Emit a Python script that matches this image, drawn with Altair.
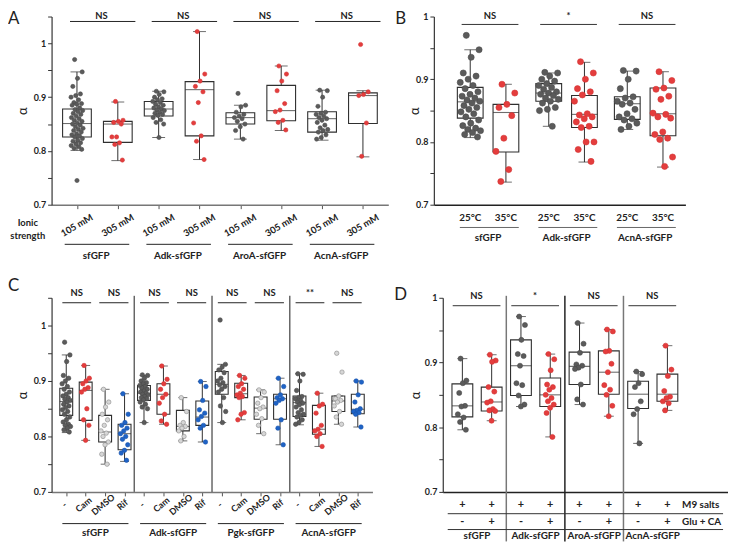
import altair as alt
import pandas as pd

FONT = "Lato"
INK = "#222222"

KIND_DOMAIN = ["ctrl", "treat", "dmso", "rif"]
FILL_RANGE = ["#5b5b5b", "#e43d3d", "#d6d6d6", "#1f63c6"]
STROKE_RANGE = ["#4a4a4a", "#d33232", "#8a8a8a", "#1a55ad"]

Y_TICKS_HI = [0.7, 0.75, 0.8, 0.85, 0.9, 0.95, 1.0, 1.05]
Y_TICKS_LO = [0.7, 0.75, 0.8, 0.85, 0.9, 0.95, 1.0]
Y_LABELS = ["0.7", "0.8", "0.9", "1"]

# ---------------- Panel A ----------------
A_groups = ["sfGFP", "Adk-sfGFP", "AroA-sfGFP", "AcnA-sfGFP"]
A_conds = ["105 mM", "305 mM"]
A_sig = ["NS", "NS", "NS", "NS"]
A_lo = [0.801, 0.782, 0.825, 0.784, 0.822, 0.838, 0.820, 0.789]
A_q1 = [0.826, 0.816, 0.865, 0.828, 0.850, 0.856, 0.835, 0.851]
A_med = [0.851, 0.850, 0.878, 0.914, 0.862, 0.875, 0.860, 0.903]
A_q3 = [0.878, 0.855, 0.892, 0.929, 0.871, 0.922, 0.873, 0.908]
A_hi = [0.947, 0.891, 0.911, 1.022, 0.885, 0.958, 0.913, 0.912]
A_pts = [
    [0.970, 0.947, 0.935, 0.920, 0.906, 0.903, 0.900, 0.895, 0.890, 0.888, 0.887, 0.885, 0.880, 0.877, 0.875,
     0.873, 0.870, 0.868, 0.865, 0.862, 0.860, 0.857, 0.855, 0.852, 0.850, 0.848, 0.845, 0.842, 0.840, 0.838,
     0.835, 0.832, 0.830, 0.828, 0.826, 0.823, 0.820, 0.818, 0.815, 0.813, 0.810, 0.808, 0.805, 0.803, 0.745],
    [0.892, 0.857, 0.855, 0.853, 0.850, 0.826, 0.826, 0.815, 0.812, 0.783],
    [0.911, 0.910, 0.905, 0.900, 0.897, 0.895, 0.892, 0.890, 0.887, 0.885, 0.882, 0.880, 0.878, 0.876, 0.875,
     0.872, 0.870, 0.868, 0.866, 0.862, 0.858, 0.853, 0.850, 0.825],
    [1.022, 0.943, 0.930, 0.920, 0.910, 0.890, 0.852, 0.828, 0.818, 0.784],
    [0.907, 0.885, 0.882, 0.872, 0.868, 0.865, 0.862, 0.860, 0.855, 0.850, 0.845, 0.838, 0.822],
    [0.958, 0.943, 0.930, 0.912, 0.888, 0.876, 0.873, 0.857, 0.853, 0.839],
    [0.913, 0.912, 0.900, 0.883, 0.872, 0.870, 0.868, 0.865, 0.862, 0.860, 0.857, 0.853, 0.848, 0.843, 0.840,
     0.838, 0.835, 0.830, 0.825, 0.822],
    [0.998, 0.910, 0.905, 0.903, 0.852, 0.790],
]

# ---------------- Panel B ----------------
B_groups = ["sfGFP", "Adk-sfGFP", "AcnA-sfGFP"]
B_conds = ["25°C", "35°C"]
B_sig = ["NS", "*", "NS"]
B_lo = [0.807, 0.736, 0.825, 0.768, 0.820, 0.760]
B_q1 = [0.838, 0.784, 0.865, 0.823, 0.836, 0.810]
B_med = [0.864, 0.847, 0.878, 0.844, 0.861, 0.845]
B_q3 = [0.887, 0.860, 0.893, 0.874, 0.872, 0.886]
B_hi = [0.947, 0.892, 0.910, 0.927, 0.913, 0.912]
B_pts = [
    [0.970, 0.947, 0.935, 0.910, 0.905, 0.900, 0.895, 0.890, 0.885, 0.880, 0.876, 0.873, 0.870, 0.867, 0.865,
     0.862, 0.858, 0.855, 0.852, 0.848, 0.845, 0.840, 0.835, 0.830, 0.826, 0.822, 0.820, 0.818, 0.815, 0.812, 0.808],
    [0.892, 0.878, 0.860, 0.855, 0.842, 0.806, 0.785, 0.756, 0.737],
    [0.911, 0.910, 0.905, 0.900, 0.897, 0.893, 0.890, 0.887, 0.884, 0.880, 0.878, 0.876, 0.874, 0.870, 0.868,
     0.865, 0.862, 0.855, 0.852, 0.850, 0.825],
    [0.928, 0.910, 0.900, 0.885, 0.880, 0.875, 0.865, 0.845, 0.843, 0.840, 0.837, 0.832, 0.825, 0.823, 0.800,
     0.800, 0.788, 0.769],
    [0.914, 0.913, 0.900, 0.885, 0.872, 0.870, 0.865, 0.862, 0.860, 0.852, 0.845, 0.840, 0.837, 0.835, 0.830,
     0.825, 0.820],
    [0.912, 0.898, 0.886, 0.884, 0.873, 0.868, 0.846, 0.844, 0.840, 0.838, 0.816, 0.812, 0.806, 0.804, 0.776, 0.761],
]

# ---------------- Panel C ----------------
C_groups = ["sfGFP", "Adk-sfGFP", "Pgk-sfGFP", "AcnA-sfGFP"]
C_conds = ["-", "Cam", "DMSO", "Rif"]
C_sig = ["NS", "NS", "NS", "NS", "NS", "NS", "**", "NS"]
C_lo = [0.807, 0.793, 0.750, 0.755, 0.825, 0.822, 0.792, 0.790, 0.825, 0.830, 0.805, 0.785, 0.821, 0.782, 0.822, 0.817]
C_q1 = [0.838, 0.829, 0.790, 0.776, 0.865, 0.840, 0.810, 0.820, 0.876, 0.870, 0.831, 0.831, 0.836, 0.804, 0.845, 0.841]
C_med = [0.863, 0.883, 0.808, 0.805, 0.878, 0.876, 0.818, 0.835, 0.894, 0.877, 0.851, 0.868, 0.861, 0.813, 0.864, 0.849]
C_q3 = [0.887, 0.898, 0.838, 0.822, 0.892, 0.895, 0.847, 0.864, 0.917, 0.896, 0.871, 0.876, 0.873, 0.856, 0.873, 0.876]
C_hi = [0.947, 0.928, 0.885, 0.877, 0.910, 0.927, 0.870, 0.899, 0.930, 0.910, 0.884, 0.905, 0.913, 0.878, 0.873, 0.900]
C_pts = [
    B_pts[0],
    [0.928, 0.905, 0.900, 0.895, 0.888, 0.885, 0.880, 0.850, 0.830, 0.820, 0.793],
    [0.885, 0.862, 0.853, 0.840, 0.830, 0.820, 0.810, 0.806, 0.800, 0.790, 0.785, 0.768, 0.750],
    [0.877, 0.840, 0.825, 0.820, 0.815, 0.810, 0.805, 0.800, 0.795, 0.785, 0.775, 0.770, 0.757],
    A_pts[2],
    [0.927, 0.903, 0.895, 0.885, 0.876, 0.870, 0.860, 0.840, 0.828, 0.822],
    [0.870, 0.845, 0.825, 0.820, 0.818, 0.815, 0.810, 0.800, 0.792],
    [0.899, 0.890, 0.865, 0.848, 0.842, 0.836, 0.830, 0.820, 0.815, 0.790],
    [1.010, 0.930, 0.925, 0.920, 0.915, 0.905, 0.900, 0.897, 0.893, 0.890, 0.885, 0.880, 0.870, 0.855, 0.845, 0.825],
    [0.910, 0.905, 0.895, 0.890, 0.885, 0.878, 0.875, 0.872, 0.870, 0.843, 0.840, 0.830],
    [0.884, 0.880, 0.870, 0.860, 0.853, 0.850, 0.840, 0.832, 0.820, 0.805],
    [0.905, 0.890, 0.875, 0.870, 0.868, 0.865, 0.860, 0.830, 0.815, 0.785],
    A_pts[6],
    [0.878, 0.858, 0.855, 0.842, 0.820, 0.813, 0.810, 0.805, 0.800, 0.782],
    [0.950, 0.916, 0.873, 0.868, 0.865, 0.862, 0.855, 0.845, 0.835, 0.822],
    [0.900, 0.898, 0.875, 0.862, 0.850, 0.847, 0.845, 0.843, 0.840, 0.817],
]

# ---------------- Panel D ----------------
D_groups = ["sfGFP", "Adk-sfGFP", "AroA-sfGFP", "AcnA-sfGFP"]
D_row1 = ["+", "+", "+", "+", "+", "+", "+", "+"]
D_row2 = ["-", "+", "-", "+", "-", "+", "-", "+"]
D_rowlabels = ["M9 salts", "Glu + CA"]
D_sig = ["NS", "*", "NS", "NS"]
D_lo = [0.796, 0.810, 0.832, 0.785, 0.835, 0.817, 0.775, 0.826]
D_q1 = [0.816, 0.825, 0.849, 0.832, 0.866, 0.851, 0.829, 0.840]
D_med = [0.833, 0.839, 0.895, 0.850, 0.894, 0.885, 0.851, 0.851]
D_q3 = [0.867, 0.862, 0.935, 0.876, 0.916, 0.918, 0.871, 0.882]
D_hi = [0.906, 0.912, 0.971, 0.913, 0.961, 0.951, 0.886, 0.926]
D_pts = [
    [0.906, 0.872, 0.868, 0.853, 0.833, 0.832, 0.820, 0.815, 0.808, 0.796],
    [0.912, 0.903, 0.901, 0.862, 0.855, 0.840, 0.838, 0.828, 0.826, 0.825, 0.810],
    [0.971, 0.958, 0.935, 0.913, 0.910, 0.895, 0.868, 0.865, 0.849, 0.835, 0.832],
    [0.913, 0.905, 0.888, 0.866, 0.862, 0.858, 0.850, 0.845, 0.840, 0.835, 0.830, 0.822, 0.785],
    [0.961, 0.929, 0.915, 0.897, 0.895, 0.892, 0.890, 0.866, 0.843, 0.835],
    [0.951, 0.948, 0.918, 0.917, 0.898, 0.885, 0.865, 0.858, 0.850, 0.833, 0.817],
    [0.886, 0.882, 0.868, 0.862, 0.840, 0.828, 0.820, 0.775],
    [0.926, 0.889, 0.879, 0.856, 0.847, 0.845, 0.840, 0.837, 0.826],
]

LABEL_EXPR = ("indexof(['0.7','0.8','0.9','1'], format(datum.value, '.2~f')) >= 0"
              " ? format(datum.value, '.2~f') : ''")


def make_axes(yticks, xticks, show_xticks, xdomain_color, title_x, h):
    yaxis = alt.Axis(values=yticks, labelExpr=LABEL_EXPR, title="α", titleFont=FONT, titleFontSize=13,
                     titleFontWeight="normal", titleColor=INK, titleX=title_x, titleY=h / 2,
                     titleBaseline="middle", titleAlign="center",
                     labelFont=FONT, labelFontSize=9, labelFontWeight="bold", labelColor=INK,
                     labelPadding=2, tickSize=4, tickColor="#333", domainColor="#333",
                     domainWidth=1.2, grid=False)
    xaxis = alt.Axis(values=xticks, labels=False, ticks=show_xticks, tickSize=4, tickColor="#555",
                     domainColor=xdomain_color, domainWidth=1.5, grid=False, title=None)
    return xaxis, yaxis


def core_layers(X, Y, pos, kinds, lo, q1, med, q3, hi, pts, bw, cap, psize, jit):
    dbox = pd.DataFrame(dict(pos=pos, kind=kinds, lo=lo, q1=q1, med=med, q3=q3, hi=hi))
    rows = []
    for p, k, vals in zip(pos, kinds, pts):
        for i, v in enumerate(vals):
            off = (((i * 0.618034 + 0.31) % 1.0) - 0.5) * 2 * jit
            rows.append(dict(x=p + off, v=v, kind=k))
    dpts = pd.DataFrame(rows)
    col = "#2f2f2f"
    b = alt.Chart(dbox)
    layers = [
        b.mark_rule(color=col, strokeWidth=1).encode(x=X("pos"), y=Y("lo"), y2="q1"),
        b.mark_rule(color=col, strokeWidth=1).encode(x=X("pos"), y=Y("q3"), y2="hi"),
        b.mark_tick(orient="horizontal", size=cap, thickness=1, color=col).encode(x=X("pos"), y=Y("lo")),
        b.mark_tick(orient="horizontal", size=cap, thickness=1, color=col).encode(x=X("pos"), y=Y("hi")),
        b.mark_bar(size=bw, fill="white", fillOpacity=0, stroke=col, strokeWidth=1.1).encode(
            x=X("pos"), y=Y("q1"), y2="q3"),
        b.mark_tick(orient="horizontal", size=bw, thickness=1.1, color=col).encode(x=X("pos"), y=Y("med")),
        alt.Chart(dpts).mark_circle(size=psize, opacity=1, strokeWidth=0.6).encode(
            x=X("x"), y=Y("v"),
            fill=alt.Fill("kind:N", scale=alt.Scale(domain=KIND_DOMAIN, range=FILL_RANGE), legend=None),
            stroke=alt.Stroke("kind:N", scale=alt.Scale(domain=KIND_DOMAIN, range=STROKE_RANGE), legend=None)),
    ]
    return layers


def txt(df, X, xfield, y, field, size=9.5, angle=0, align="center", weight="bold", color=INK):
    return alt.Chart(df).mark_text(font=FONT, fontSize=size, fontWeight=weight, angle=angle, align=align,
                                   baseline="middle", color=color).encode(
        x=X(xfield), y=alt.value(y), text=alt.Text(field + ":N"))


def hrule(df, X, y, color=INK, width=1.0):
    return alt.Chart(df).mark_rule(color=color, strokeWidth=width).encode(x=X("x1"), x2="x2", y=alt.value(y))


def fixed_text(s, x, y, size=17, weight="normal", align="left"):
    return alt.Chart(pd.DataFrame({"t": [s]})).mark_text(
        font=FONT, fontSize=size, fontWeight=weight, align=align, baseline="middle", color=INK).encode(
        x=alt.value(x), y=alt.value(y), text="t:N")


def helpers(xdom, ydom, xaxis, yaxis):
    xs = alt.Scale(domain=xdom, nice=False, zero=False)
    ys = alt.Scale(domain=ydom, nice=False, zero=False)
    X = lambda f: alt.X(f, type="quantitative", scale=xs, axis=xaxis)
    Y = lambda f: alt.Y(f, type="quantitative", scale=ys, axis=yaxis)
    return X, Y


# ======== build panel A ========
WA, HA = 340, 190
posA = [i + 0.5 for i in range(8)]
kindA = ["ctrl", "treat"] * 4
xa, ya = make_axes(Y_TICKS_HI, posA, True, "#777", -29, HA)
XA, YA = helpers([0, 8], [0.7, 1.05], xa, ya)
layA = core_layers(XA, YA, posA, kindA, A_lo, A_q1, A_med, A_q3, A_hi, A_pts, 29, 13, 18, 0.15)
sigA = pd.DataFrame(dict(x1=[2 * g + 0.33 for g in range(4)], x2=[2 * g + 1.93 for g in range(4)],
                         xm=[2 * g + 1.1 for g in range(4)], label=A_sig))
tickA = pd.DataFrame(dict(pos=posA, label=A_conds * 4))
grpA = pd.DataFrame(dict(x1=[2 * g + 0.2 for g in range(4)], x2=[2 * g + 1.78 for g in range(4)],
                         xm=[2 * g + 0.97 for g in range(4)], name=A_groups))
layA += [
    hrule(sigA, XA, 5), txt(sigA, XA, "xm", -1, "label"),
    txt(tickA, XA, "pos", HA + 21, "label", angle=330),
    hrule(grpA, XA, HA + 40), txt(grpA, XA, "xm", HA + 52, "name", size=10),
    fixed_text("Ionic", -24, HA + 19, size=9.5, weight="bold", align="center"),
    fixed_text("strength", -24, HA + 32, size=9.5, weight="bold", align="center"),
    fixed_text("A", -44, 3),
]
chartA = alt.layer(*layA).properties(width=WA, height=HA)

# ======== build panel B ========
WB, HB = 254, 190
gbB = [0.0, 2.2, 4.4]
posB = [gbB[g] + s for g in range(3) for s in range(2)]
kindB = ["ctrl", "treat"] * 3
xb, yb = make_axes(Y_TICKS_LO, posB, False, "#222", -19, HB)
XB, YB = helpers([-0.88, 5.89], [0.7, 1.0], xb, yb)
layB = core_layers(XB, YB, posB, kindB, B_lo, B_q1, B_med, B_q3, B_hi, B_pts, 26, 12, 38, 0.29)
sigB = pd.DataFrame(dict(x1=[g - 0.24 for g in gbB], x2=[g + 1.35 for g in gbB],
                         xm=[g + 0.55 for g in gbB], label=B_sig))
tickB = pd.DataFrame(dict(pos=posB, label=B_conds * 3))
grpB = pd.DataFrame(dict(x1=[g - 0.29 for g in gbB], x2=[g + 1.36 for g in gbB],
                         xm=[g + 0.5 for g in gbB], name=B_groups))
layB += [
    hrule(sigB, XB, 8, color="#333"), txt(sigB, XB, "xm", -1, "label"),
    txt(tickB, XB, "pos", HB + 13, "label", size=10),
    hrule(grpB, XB, HB + 23, color="#666"), txt(grpB, XB, "xm", HB + 34, "name", size=10),
    fixed_text("B", -39, 3),
]
chartB = alt.layer(*layB).properties(width=WB, height=HB)

# ======== build panel C ========
WC, HC = 324, 196
posC = [i + 0.5 for i in range(16)]
kindC = ["ctrl", "treat", "dmso", "rif"] * 4
xc, yc = make_axes(Y_TICKS_HI, posC, True, "#777", -29, HC)
XC, YC = helpers([0, 16], [0.7, 1.05], xc, yc)
layC = core_layers(XC, YC, posC, kindC, C_lo, C_q1, C_med, C_q3, C_hi, C_pts, 13, 9, 20, 0.22)
x1C, x2C, xmC = [], [], []
for g in range(4):
    x1C += [4 * g + 0.3, 4 * g + 2.2]
    x2C += [4 * g + 1.78, 4 * g + 3.7]
    xmC += [4 * g + 1.04, 4 * g + 2.96]
sigC = pd.DataFrame(dict(x1=x1C, x2=x2C, xm=xmC, label=C_sig))
tickC = pd.DataFrame(dict(pos=[p - 0.1 for p in posC], label=C_conds * 4))
grpC = pd.DataFrame(dict(x1=[4 * g + 0.3 for g in range(4)], x2=[4 * g + 3.7 for g in range(4)],
                         xm=[4 * g + 2 for g in range(4)], name=C_groups))
sepC = pd.DataFrame(dict(s=[4, 8, 12]))
layC += [
    alt.Chart(sepC).mark_rule(color="#666", strokeWidth=1.5).encode(
        x=XC("s"), y=alt.value(-2), y2=alt.value(HC)),
    hrule(sigC, XC, 5), txt(sigC, XC, "xm", -5, "label"),
    txt(tickC, XC, "pos", HC + 13, "label", size=9, angle=320),
    hrule(grpC, XC, HC + 32), txt(grpC, XC, "xm", HC + 42, "name", size=10),
    fixed_text("C", -44, -12),
]
chartC = alt.layer(*layC).properties(width=WC, height=HC)

# ======== build panel D ========
WD, HD = 288, 196
posD = [i + 0.5 for i in range(8)]
kindD = ["ctrl", "treat"] * 4
xd, yd = make_axes(Y_TICKS_LO, posD, False, "#222", -27, HD)
XD, YD = helpers([0, 9.4], [0.7, 1.0], xd, yd)
layD = core_layers(XD, YD, posD, kindD, D_lo, D_q1, D_med, D_q3, D_hi, D_pts, 21, 10, 26, 0.16)
sigD = pd.DataFrame(dict(x1=[2 * g + 0.17 for g in range(4)], x2=[2 * g + 1.8 for g in range(4)],
                         xm=[2 * g + 0.98 for g in range(4)], label=D_sig))
row1D = pd.DataFrame(dict(pos=posD, label=D_row1))
row2D = pd.DataFrame(dict(pos=posD, label=D_row2))
rowlabD = pd.DataFrame(dict(x=[8.0, 8.0], label=D_rowlabels))
tableD = pd.DataFrame(dict(x1=[0.0], x2=[9.4]))
grpD = pd.DataFrame(dict(xm=[2 * g + 1 for g in range(4)], name=D_groups))
sepD = pd.DataFrame(dict(s=[2, 4, 6], c=["a", "b", "a"]))
layD += [
    alt.Chart(sepD).mark_rule(strokeWidth=1.5).encode(
        x=XD("s"), y=alt.value(-2), y2=alt.value(HD + 50),
        color=alt.Color("c:N", scale=alt.Scale(domain=["a", "b"], range=["#777", "#222"]), legend=None)),
    hrule(sigD, XD, 8, color="#333"), txt(sigD, XD, "xm", -2, "label"),
    txt(row1D, XD, "pos", HD + 13, "label", size=11),
    hrule(tableD, XD, HD + 22, color="#333"),
    txt(row2D, XD, "pos", HD + 30, "label", size=11),
    hrule(tableD, XD, HD + 38, color="#333"),
    alt.Chart(rowlabD.iloc[[0]]).mark_text(font=FONT, fontSize=10, fontWeight="bold", align="left",
                                            baseline="middle", color=INK).encode(
        x=XD("x"), y=alt.value(HD + 13), text="label:N"),
    alt.Chart(rowlabD.iloc[[1]]).mark_text(font=FONT, fontSize=10, fontWeight="bold", align="left",
                                            baseline="middle", color=INK).encode(
        x=XD("x"), y=alt.value(HD + 30), text="label:N"),
    txt(grpD, XD, "xm", HD + 45, "name", size=10),
    fixed_text("D", -49, -3),
]
chartD = alt.layer(*layD).properties(width=WD, height=HD)

row1 = alt.hconcat(chartA, chartB, spacing=46, bounds="flush")
row2 = alt.hconcat(chartC, chartD, spacing=71, bounds="flush")
chart = alt.vconcat(row1, row2, spacing=16).properties(padding=0).configure_view(stroke=None)

chart.save("out.html", embed_options={"renderer": "svg", "actions": False})
